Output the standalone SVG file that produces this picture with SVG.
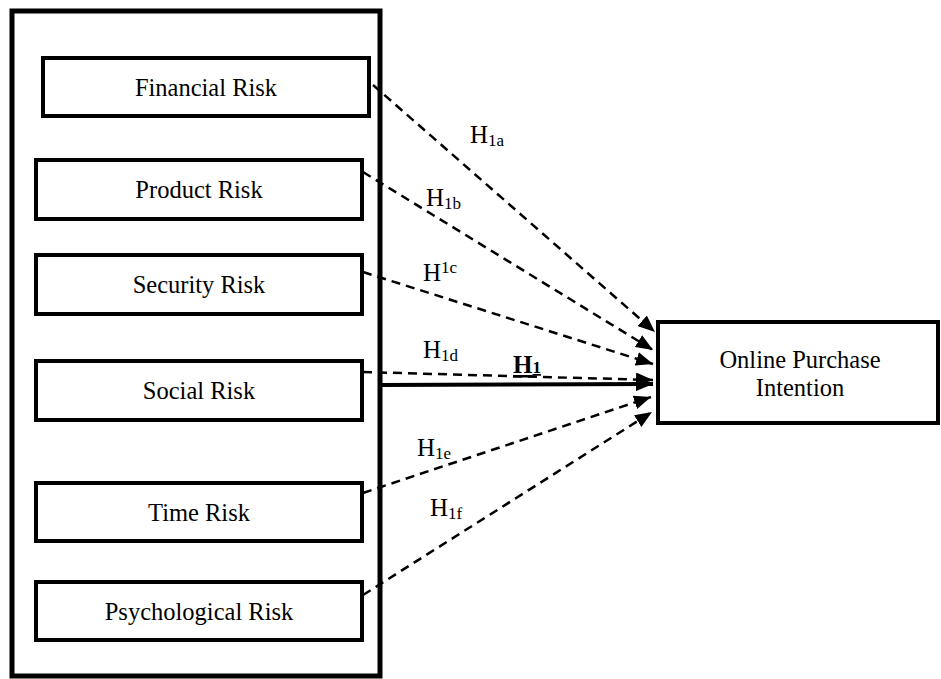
<svg xmlns="http://www.w3.org/2000/svg" width="941" height="679" viewBox="0 0 941 679">
<style>
.box{fill:#fff;stroke:#000;stroke-width:4}
.outer{fill:#fff;stroke:#000;stroke-width:5}
.t{font-family:"Liberation Serif","Times New Roman",serif;font-size:24.5px;fill:#000;text-anchor:middle}
.h{font-family:"Liberation Serif","Times New Roman",serif;font-size:25px;fill:#000}
.s{font-size:17px}
.d{stroke:#000;stroke-width:2.5;stroke-dasharray:9 6;fill:none}
.solid{stroke:#000;stroke-width:4;fill:none}
</style>
<defs>
<marker id="ah" markerUnits="userSpaceOnUse" markerWidth="18" markerHeight="14" refX="17" refY="7" orient="auto">
<path d="M0,0 L17,7 L0,14 z" fill="#000"/>
</marker>
</defs>
<g id="outer"><rect class="outer" x="12" y="11" width="368" height="665"/></g>
<g id="financial"><rect class="box" x="43" y="58" width="326" height="58"/><text class="t" x="206" y="96">Financial Risk</text></g>
<g id="product"><rect class="box" x="36" y="160" width="326" height="59"/><text class="t" x="199" y="198">Product Risk</text></g>
<g id="security"><rect class="box" x="36" y="255" width="326" height="59"/><text class="t" x="199" y="293">Security Risk</text></g>
<g id="social"><rect class="box" x="36" y="361" width="326" height="59"/><text class="t" x="199" y="399">Social Risk</text></g>
<g id="time"><rect class="box" x="36" y="483" width="326" height="58"/><text class="t" x="199" y="521">Time Risk</text></g>
<g id="psychological"><rect class="box" x="36" y="582" width="326" height="58"/><text class="t" x="199" y="620">Psychological Risk</text></g>
<g id="intention"><rect class="box" x="658" y="322" width="280" height="101"/><text class="t" x="800" y="368">Online Purchase</text><text class="t" x="800" y="396">Intention</text></g>
<g id="connectors">
<line class="d" x1="373" y1="85" x2="655" y2="332" marker-end="url(#ah)"/>
<line class="d" x1="363" y1="172" x2="653" y2="350" marker-end="url(#ah)"/>
<line class="d" x1="363" y1="272" x2="653" y2="364" marker-end="url(#ah)"/>
<line class="d" x1="363" y1="372" x2="653" y2="380" marker-end="url(#ah)"/>
<line class="solid" x1="380" y1="385" x2="653" y2="384" marker-end="url(#ah)"/>
<line class="d" x1="363" y1="493" x2="651" y2="397" marker-end="url(#ah)"/>
<line class="d" x1="363" y1="595" x2="652" y2="412" marker-end="url(#ah)"/>
</g>
<g id="labels">
<text class="h" x="470" y="143">H<tspan class="s" dy="3">1a</tspan></text>
<text class="h" x="426" y="206">H<tspan class="s" dy="3">1b</tspan></text>
<text class="h" x="423" y="281">H<tspan class="s" dy="-8">1c</tspan></text>
<text class="h" x="423" y="358">H<tspan class="s" dy="3">1d</tspan></text>
<text class="h" x="513" y="373" font-weight="bold" text-decoration="underline">H<tspan class="s" dy="0">1</tspan></text>
<text class="h" x="417" y="456">H<tspan class="s" dy="3">1e</tspan></text>
<text class="h" x="430" y="516">H<tspan class="s" dy="3">1f</tspan></text>
</g>
</svg>
